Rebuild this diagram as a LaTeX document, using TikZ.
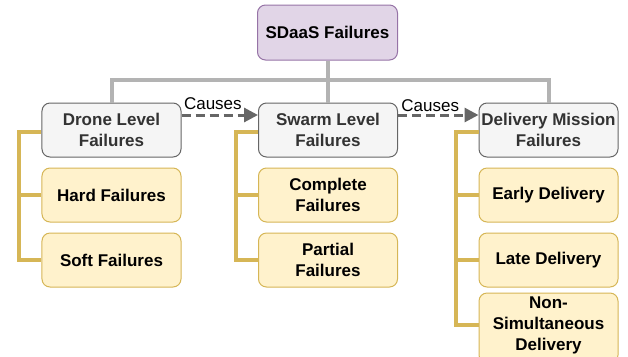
\documentclass[tikz,border=0pt]{standalone}
\usepackage{fontspec}
\setmainfont{Liberation Sans}
\usetikzlibrary{arrows.meta}
\definecolor{rootfill}{HTML}{E1D5E7}
\definecolor{rootdraw}{HTML}{9673A6}
\definecolor{midfill}{HTML}{F5F5F5}
\definecolor{middraw}{HTML}{666666}
\definecolor{midtext}{HTML}{333333}
\definecolor{leaffill}{HTML}{FFF2CC}
\definecolor{leafdraw}{HTML}{D6B656}
\definecolor{busgray}{HTML}{B3B3B3}
\definecolor{arrowgray}{HTML}{666666}
\tikzset{
  box/.style={rectangle, rounded corners=8bp, line width=1bp, align=center,
    inner sep=0pt, font=\fontsize{17bp}{21bp}\selectfont\bfseries},
  rootbox/.style={box, fill=rootfill, draw=rootdraw, minimum width=140bp, minimum height=55bp},
  midbox/.style={box, fill=midfill, draw=middraw, text=midtext, minimum width=139bp, minimum height=54bp},
  leafbox/.style={box, fill=leaffill, draw=leafdraw, minimum width=139bp, minimum height=54bp},
  bus/.style={draw=busgray, line width=4bp},
  ytree/.style={draw=leafdraw, line width=4bp},
  causes/.style={draw=arrowgray, line width=3bp, dash pattern=on 9bp off 5bp,
    -{Triangle[length=14bp,width=14bp,fill=arrowgray]}},
  causelabel/.style={font=\fontsize{17bp}{21bp}\selectfont, inner sep=0pt, text=black}
}
\begin{document}
\begin{tikzpicture}[x=1bp,y=-1bp]
\useasboundingbox (0,0) rectangle (628,356);
\coordinate (bus) at (327.5,80);
\node[rootbox] (root) at (327.5,32.5) {SDaaS Failures};
\node[midbox] (drone) at (111.5,130) {Drone Level\\Failures};
\node[midbox] (swarm) at (328,130) {Swarm Level\\Failures};
\node[midbox] (deliv) at (548.5,130) {Delivery Mission\\Failures};
\draw[bus] (root.south) -- (bus);
\draw[bus] (drone.north) |- (bus) -| (deliv.north);
\draw[bus] (swarm.north) -- (swarm.north |- bus);
% leaves
\node[leafbox] (hard) at (111.5,195) {Hard Failures};
\node[leafbox] (soft) at (111.5,260) {Soft Failures};
\node[leafbox] (complete) at (328,195) {Complete\\Failures};
\node[leafbox] (partial) at (328,260) {Partial\\Failures};
\node[leafbox] (early) at (548.5,195) {Early Delivery};
\node[leafbox] (late) at (548.5,260) {Late Delivery};
\node[leafbox, minimum height=70bp] (nonsim) at (548.5,328) {};
\node[box, align=center] (nonsimtext) at (548.5,325) {Non-\\Simultaneous\\Delivery};
% yellow trees
\draw[ytree] ([yshift=-1.5bp]drone.west) -- ++(-22,0) coordinate (dj) |- (soft.west);
\draw[ytree] (dj |- hard.west) -- (hard.west);
\draw[ytree] ([yshift=-1.5bp]swarm.west) -- ++(-22,0) coordinate (sj) |- (partial.west);
\draw[ytree] (sj |- complete.west) -- (complete.west);
\draw[ytree] ([yshift=-1.5bp]deliv.west) -- ++(-23,0) coordinate (lj) |- (nonsimtext.west -| nonsim.west);
\draw[ytree] (lj |- early.west) -- (early.west);
\draw[ytree] (lj |- late.west) -- (late.west);
% causes arrows
\draw[causes] ([yshift=15bp]drone.east) -- ([yshift=15bp]swarm.west)
  node[causelabel, pos=0.41, yshift=11bp] (c1) {Causes};
\draw[causes] ([yshift=15bp]swarm.east) -- ([yshift=15bp]deliv.west)
  node[causelabel, pos=0.4, yshift=9bp] (c2) {Causes};
\end{tikzpicture}
\end{document}
